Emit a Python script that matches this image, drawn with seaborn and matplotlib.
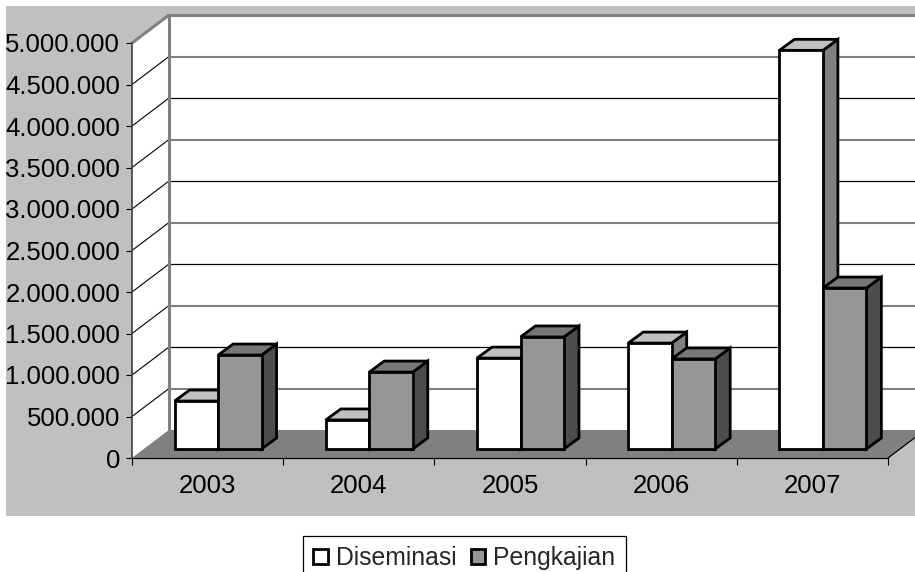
import numpy as np
import pandas as pd
import seaborn as sns
import matplotlib.pyplot as plt
from matplotlib.patches import Polygon, Rectangle
from matplotlib.transforms import Affine2D, IdentityTransform

# Data
years = ['2003', '2004', '2005', '2006', '2007']
diseminasi = [578000, 350000, 1095000, 1276000, 4803000]
pengkajian = [1132000, 927000, 1350000, 1085000, 1939000]
series_names = ['Diseminasi', 'Pengkajian']
y_ticks = list(range(0, 5000001, 500000))

df = pd.DataFrame({
    'Year': years * 2,
    'Series': [series_names[0]] * 5 + [series_names[1]] * 5,
    'Value': diseminasi + pengkajian,
})

W, H = 915, 572
sns.set_style('white')
plt.rcParams['font.family'] = ['Liberation Sans', 'DejaVu Sans']

fig = plt.figure(figsize=(W / 100, H / 100), dpi=100, facecolor='white')
# front plane of the box: x 132-888, y 43-458 in pixels
ax = fig.add_axes([132 / W, 1 - 458 / H, 756 / W, 415 / H])
ax.patch.set_alpha(0)

sns.barplot(x='Year', y='Value', hue='Series', data=df, ax=ax, width=0.575,
            palette=['white', '#969696'], edgecolor='black', linewidth=2,
            saturation=1, zorder=3)
ax.set_xlim(-0.5, 4.5)
ax.set_ylim(0, 5000000)
ax.set_xlabel('')
ax.set_ylabel('')

# depth of the box in pixels, and how far the bars sit inside it
depth_x, depth_y = 37, 28
bar_dx, bar_dy = 10.5, 9
side_dx, side_dy = 15, 11


def pt(x, v, dx=0, dy=0):
    px, py = ax.transData.transform((x, v))
    return (px + dx, py + dy)


def add_poly(points, face, edge='none', lw=0, z=1):
    ax.add_patch(Polygon(points, closed=True, facecolor=face, edgecolor=edge, linewidth=lw,
                         transform=IdentityTransform(), zorder=z, clip_on=False,
                         joinstyle='miter'))


def add_line(p1, p2, color, lw, z=1.5):
    ax.plot([p1[0], p2[0]], [p1[1], p2[1]], color=color, lw=lw, zorder=z,
            transform=IdentityTransform(), clip_on=False, solid_capstyle='butt')


# gray chart area
fig.patches.append(Rectangle((6 / W, 1 - 516 / H), (W - 6) / W, 510 / H, facecolor='#C0C0C0',
                             edgecolor='none', transform=fig.transFigure, zorder=-5))

xmin, xmax = ax.get_xlim()
top = y_ticks[-1]

# walls and floor
add_poly([pt(xmin, 0), pt(xmin, top), pt(xmin, top, depth_x, depth_y), pt(xmin, 0, depth_x, depth_y)], 'white')
add_poly([pt(xmin, 0, depth_x, depth_y), pt(xmin, top, depth_x, depth_y),
          pt(xmax, top, depth_x, depth_y), pt(xmax, 0, depth_x, depth_y)], 'white')
add_poly([pt(xmin, 0), pt(xmin, 0, depth_x, depth_y), pt(xmax, 0, depth_x, depth_y), pt(xmax, 0)], '#808080', z=1.2)

# gridlines run along the left wall and on along the back wall
for i, tick in enumerate(y_ticks[1:]):
    color = '#808080' if i % 2 == 0 or tick == top else 'black'
    lw = 1.5 if color != 'black' else 0.9
    if tick != top:
        add_line(pt(xmin, tick), pt(xmin, tick, depth_x, depth_y), 'black', 0.8)
    add_line(pt(xmin, tick, depth_x, depth_y), pt(xmax, tick, depth_x, depth_y), color, lw)

add_line(pt(xmin, top), pt(xmin, top, depth_x, depth_y), '#808080', 2.2)
add_line(pt(xmin, top, depth_x, depth_y), pt(xmax, top, depth_x, depth_y), '#808080', 2.2)
add_line(pt(xmin, 0, depth_x, depth_y), pt(xmin, top, depth_x, depth_y), '#808080', 2.2)
add_line(pt(xmax, 0), pt(xmax, 0, depth_x, depth_y), 'black', 0.9)

# move the bars into the box and give them their sides and tops
side_colors = ['#808080', '#4D4D4D']
top_colors = ['#C0C0C0', '#777777']
bar_shift = Affine2D().translate(bar_dx, bar_dy)
for s, container in enumerate(ax.containers):
    for bar in container:
        x0, x1 = bar.get_x(), bar.get_x() + bar.get_width()
        h = bar.get_height()
        z = 3 + 2 * s
        bar.set_transform(ax.transData + bar_shift)
        bar.set_zorder(z + 1)
        bar.set_clip_on(False)
        bar.set_joinstyle('miter')
        add_poly([pt(x1, 0, bar_dx, bar_dy), pt(x1, h, bar_dx, bar_dy),
                  pt(x1, h, bar_dx + side_dx, bar_dy + side_dy), pt(x1, 0, bar_dx + side_dx, bar_dy + side_dy)],
                 side_colors[s], 'black', 2, z)
        add_poly([pt(x0, h, bar_dx, bar_dy), pt(x0, h, bar_dx + side_dx, bar_dy + side_dy),
                  pt(x1, h, bar_dx + side_dx, bar_dy + side_dy), pt(x1, h, bar_dx, bar_dy)],
                 top_colors[s], 'black', 2, z)

# axes and ticks
sns.despine(ax=ax, top=True, right=True)
ax.spines['left'].set_color('#404040')
ax.spines['left'].set_linewidth(1.2)
ax.spines['bottom'].set_color('black')
ax.spines['bottom'].set_linewidth(0.9)
ax.spines['left'].set_zorder(2)
ax.spines['bottom'].set_zorder(2)
ax.set_yticks(y_ticks)
ax.set_yticklabels([f'{t:,}'.replace(',', '.') for t in y_ticks])
ax.set_xticks(range(len(years)))
ax.set_xticklabels(years)
ax.set_xticks(np.arange(-0.5, 5, 1), minor=True)
ax.tick_params(axis='y', which='major', left=True, length=4.5, width=0.8, color='black',
               labelsize=18.5, pad=4, labelcolor='black')
ax.tick_params(axis='x', which='major', bottom=False, labelsize=18.5, pad=8, labelcolor='black')
ax.tick_params(axis='x', which='minor', bottom=True, length=5, width=0.8, color='black')

# legend box runs off the bottom of the picture
handles, labels = ax.get_legend_handles_labels()
ax.legend(handles, labels, loc='upper left', bbox_to_anchor=(303 / W, 1 - 536 / H),
          bbox_transform=fig.transFigure, ncol=2, fontsize=17.8, frameon=True, fancybox=False,
          edgecolor='black', framealpha=1, handlelength=0.58, handleheight=0.58,
          handletextpad=0.33, columnspacing=0.58, borderpad=0.42, borderaxespad=0, title=None)
ax.get_legend().get_frame().set_linewidth(0.9)
ax.get_legend().set_zorder(20)

plt.savefig('out.png', dpi=100)
